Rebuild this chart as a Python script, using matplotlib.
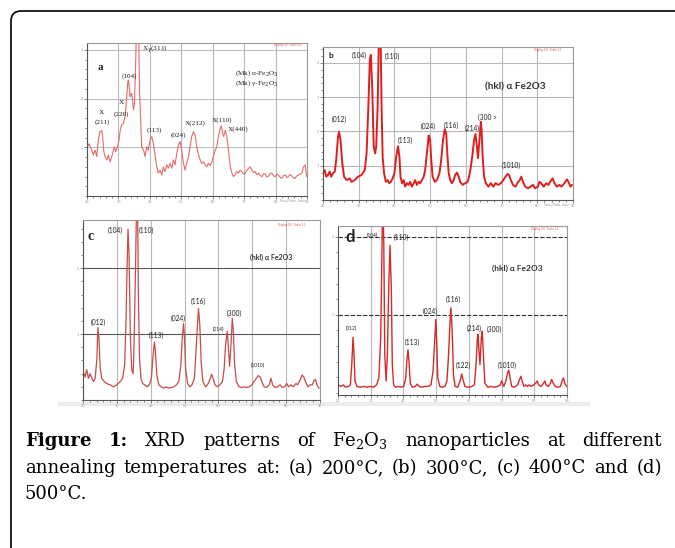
import matplotlib
matplotlib.use("Agg")
import matplotlib.pyplot as plt
from matplotlib.patches import FancyBboxPatch, Rectangle
from matplotlib.ticker import MultipleLocator

plt.rcParams['mathtext.fontset'] = 'custom'
plt.rcParams['mathtext.rm'] = 'DejaVu Serif'
plt.rcParams['mathtext.it'] = 'DejaVu Serif:italic'
plt.rcParams['mathtext.bf'] = 'DejaVu Serif:bold'

# ---- data (2theta in degrees, intensity in grid units)
tth_a = [20.1, 20.6, 21.3, 22.0, 22.6, 23.1, 23.6, 24.1, 24.7, 25.0, 25.3, 25.7, 26.3, 26.8,
         27.3, 27.9, 28.4, 28.7, 29.1, 29.7, 30.2, 30.5, 31.0, 31.6, 32.1, 32.4, 33.0, 33.2,
         33.7, 34.2, 34.8, 35.1, 35.5, 35.8, 36.4, 36.7, 37.1, 37.4, 38.0, 38.5, 39.0, 39.5,
         40.1, 40.6, 41.1, 41.7, 42.2, 42.7, 43.3, 43.8, 44.3, 44.8, 45.4, 45.9, 46.4, 47.0,
         47.5, 48.0, 48.6, 49.1, 49.6, 50.1, 50.7, 51.2, 51.7, 52.3, 52.8, 53.3, 53.9, 54.4,
         54.9, 55.5, 56.0, 56.5, 57.1, 57.6, 58.1, 58.6, 59.2, 59.7, 60.2, 60.8, 61.3, 61.8,
         62.4, 62.7, 63.1, 63.5, 64.0, 64.5, 65.0, 65.6, 66.1, 66.6, 67.1, 67.6, 68.2, 68.7,
         69.3, 69.8, 70.3, 70.8, 71.4, 71.9, 72.5, 73.0, 73.5, 74.0, 74.6, 75.1, 75.7, 76.2,
         76.7, 77.2, 77.8, 78.3, 78.8, 79.4, 79.9, 80.4, 80.9, 81.5, 82.0, 82.5, 83.1, 83.6,
         84.1, 84.6, 85.2, 85.7, 86.2, 86.7, 87.3, 87.8, 88.4, 88.9, 89.4, 89.9]
int_a = [1.01, 1.07, 0.98, 0.84, 0.94, 0.81, 1.15, 1.32, 1.34, 1.22, 0.94, 0.81, 0.74, 0.84,
         0.70, 0.81, 0.94, 1.01, 0.91, 1.01, 1.15, 1.32, 1.46, 1.49, 1.63, 1.83, 2.35, 2.38,
         2.04, 2.11, 1.77, 1.90, 2.79, 3.60, 3.60, 2.18, 1.49, 1.01, 0.94, 0.81, 1.01, 0.94,
         1.15, 1.22, 1.08, 0.81, 0.60, 0.47, 0.53, 0.43, 0.60, 0.50, 0.64, 0.57, 0.67, 0.57,
         0.74, 0.64, 0.88, 1.05, 1.12, 0.94, 0.67, 0.53, 0.67, 0.81, 1.01, 1.22, 1.32, 1.25,
         1.01, 0.84, 0.74, 0.67, 0.70, 0.64, 0.60, 0.67, 0.62, 0.70, 0.81, 0.94, 1.01, 1.22,
         1.39, 1.44, 1.32, 1.22, 1.35, 1.22, 0.94, 0.60, 0.47, 0.40, 0.43, 0.50, 0.47, 0.53,
         0.50, 0.45, 0.47, 0.52, 0.57, 0.60, 0.53, 0.48, 0.50, 0.44, 0.47, 0.42, 0.40, 0.46,
         0.45, 0.39, 0.41, 0.46, 0.47, 0.41, 0.40, 0.45, 0.43, 0.38, 0.36, 0.42, 0.43, 0.38,
         0.40, 0.44, 0.41, 0.37, 0.36, 0.41, 0.43, 0.45, 0.47, 0.60, 0.64, 0.40]

tth_b = [20.0, 20.5, 20.9, 21.4, 21.9, 22.3, 22.8, 23.3, 23.7, 24.2, 24.5, 24.9, 25.4, 25.9,
         26.6, 27.5, 28.0, 28.9, 29.8, 30.8, 31.7, 32.2, 32.7, 33.1, 33.4, 33.8, 34.2, 34.6,
         34.9, 35.3, 35.7, 36.1, 36.4, 36.7, 37.1, 37.6, 38.1, 38.5, 39.0, 39.5, 40.0, 40.5,
         41.0, 41.4, 41.7, 42.1, 42.6, 43.0, 43.5, 44.0, 44.4, 44.9, 45.4, 45.8, 46.3, 46.8,
         47.2, 47.7, 48.2, 48.6, 49.1, 49.6, 50.0, 50.3, 50.7, 51.3, 51.9, 52.6, 53.1, 53.6,
         54.1, 54.5, 54.8, 55.2, 55.6, 56.1, 56.6, 57.0, 57.5, 58.0, 58.4, 59.1, 59.8, 60.5,
         60.9, 61.4, 61.9, 62.3, 62.7, 63.1, 63.4, 63.8, 64.2, 64.4, 64.7, 65.1, 65.6, 66.3,
         67.0, 67.7, 68.3, 69.1, 69.8, 70.5, 71.1, 71.7, 72.1, 72.6, 73.2, 73.9, 74.4, 75.1,
         75.5, 76.0, 76.6, 77.4, 78.1, 78.8, 79.4, 80.2, 80.6, 81.1, 81.8, 82.5, 83.1, 83.9,
         84.3, 84.8, 85.5, 86.2, 86.8, 87.6, 88.3, 88.7, 89.3, 89.7]
int_b = [0.78, 0.87, 0.68, 0.73, 0.83, 0.68, 0.78, 0.83, 1.17, 1.85, 1.99, 1.75, 1.07, 0.68,
         0.58, 0.63, 0.53, 0.58, 0.68, 0.73, 0.87, 1.36, 2.72, 4.08, 4.23, 3.21, 1.56, 1.36,
         1.56, 2.72, 5.00, 5.00, 2.72, 1.26, 0.78, 0.53, 0.58, 0.49, 0.53, 0.63, 0.78, 1.26,
         1.57, 1.26, 0.68, 0.49, 0.58, 0.39, 0.49, 0.44, 0.53, 0.39, 0.49, 0.58, 0.44, 0.53,
         0.49, 0.58, 0.68, 0.87, 1.36, 1.88, 1.75, 1.17, 0.68, 0.53, 0.58, 0.78, 1.17, 1.75,
         2.06, 1.94, 1.36, 0.78, 0.58, 0.49, 0.58, 0.73, 0.80, 0.68, 0.53, 0.44, 0.49, 0.53,
         0.68, 0.97, 1.36, 1.75, 1.92, 1.56, 1.22, 1.75, 2.28, 2.04, 1.26, 0.68, 0.49, 0.39,
         0.49, 0.39, 0.49, 0.44, 0.49, 0.58, 0.68, 0.76, 0.73, 0.58, 0.44, 0.39, 0.49, 0.58,
         0.68, 0.53, 0.39, 0.34, 0.39, 0.44, 0.34, 0.39, 0.53, 0.49, 0.39, 0.49, 0.44, 0.58,
         0.63, 0.49, 0.39, 0.44, 0.39, 0.49, 0.60, 0.53, 0.39, 0.44]

tth_c = [20.1, 20.6, 21.1, 21.6, 22.1, 22.6, 23.1, 23.6, 24.1, 24.4, 24.7, 25.1, 25.5, 26.3,
         27.0, 28.0, 29.0, 30.0, 31.0, 31.7, 32.3, 32.7, 33.1, 33.3, 33.6, 34.0, 34.4, 34.8,
         35.0, 35.4, 35.8, 36.1, 36.4, 36.7, 37.1, 37.6, 38.2, 38.9, 39.6, 40.2, 40.7, 41.1,
         41.4, 41.8, 42.4, 43.1, 43.8, 44.5, 45.3, 46.1, 46.8, 47.6, 48.3, 48.9, 49.3, 49.7,
         50.0, 50.3, 50.9, 51.5, 52.2, 52.9, 53.2, 53.7, 54.1, 54.5, 54.9, 55.4, 56.2, 57.0,
         57.6, 58.0, 58.4, 59.0, 59.7, 60.4, 61.2, 61.7, 62.1, 62.6, 62.9, 63.3, 63.7, 64.1,
         64.4, 64.8, 65.3, 66.1, 66.9, 67.6, 68.3, 69.1, 69.9, 70.5, 71.2, 71.8, 72.3, 72.8,
         73.5, 74.2, 75.0, 75.5, 76.0, 76.8, 77.5, 78.2, 78.8, 79.5, 80.2, 80.7, 81.4, 82.1,
         82.9, 83.4, 84.1, 84.7, 85.2, 85.7, 86.4, 87.1, 87.7, 88.3, 88.7, 89.1, 89.7]
int_c = [0.43, 0.35, 0.46, 0.33, 0.40, 0.33, 0.28, 0.33, 0.63, 1.10, 0.93, 0.48, 0.33, 0.28,
         0.25, 0.23, 0.20, 0.23, 0.28, 0.33, 0.53, 1.19, 2.20, 2.59, 2.20, 0.93, 0.46, 0.40,
         0.68, 1.69, 2.90, 3.00, 1.44, 0.63, 0.33, 0.25, 0.23, 0.20, 0.23, 0.33, 0.68, 0.88,
         0.73, 0.38, 0.23, 0.20, 0.18, 0.20, 0.18, 0.19, 0.20, 0.23, 0.28, 0.53, 0.93, 1.16,
         0.93, 0.48, 0.25, 0.20, 0.23, 0.33, 0.58, 1.04, 1.39, 1.14, 0.58, 0.28, 0.20, 0.25,
         0.33, 0.39, 0.33, 0.23, 0.20, 0.23, 0.28, 0.48, 0.83, 1.04, 0.83, 0.51, 0.83, 1.24,
         1.04, 0.53, 0.28, 0.20, 0.19, 0.20, 0.19, 0.20, 0.23, 0.28, 0.33, 0.37, 0.35, 0.28,
         0.20, 0.19, 0.23, 0.33, 0.23, 0.19, 0.20, 0.23, 0.19, 0.20, 0.25, 0.20, 0.23, 0.20,
         0.25, 0.23, 0.30, 0.38, 0.35, 0.28, 0.20, 0.23, 0.23, 0.30, 0.31, 0.23, 0.18]

tth_d = [20.1, 20.9, 21.6, 22.3, 23.2, 23.8, 24.2, 24.6, 24.9, 25.2, 25.8, 26.7, 27.8, 28.8,
         29.8, 30.8, 31.8, 32.5, 33.05, 33.35, 33.7, 34.0, 34.3, 34.7, 35.1, 35.5, 35.9, 36.3,
         36.6, 37.0, 37.6, 38.4, 39.3, 40.1, 40.7, 41.1, 41.4, 41.7, 42.1, 42.7, 43.6, 44.2,
         44.8, 45.6, 46.6, 47.6, 48.4, 49.05, 49.5, 49.9, 50.2, 50.5, 51.1, 51.9, 52.7, 53.3,
         53.8, 54.2, 54.5, 54.9, 55.3, 55.8, 56.6, 57.3, 57.8, 58.2, 58.8, 59.8, 60.9, 61.7,
         62.2, 62.6, 62.8, 63.1, 63.4, 63.8, 64.1, 64.5, 64.9, 65.8, 66.8, 67.8, 68.8, 69.6,
         70.0, 70.7, 71.3, 71.8, 72.2, 72.6, 73.1, 73.9, 74.9, 75.5, 75.9, 76.3, 76.8, 77.4,
         77.9, 78.4, 79.0, 79.8, 80.4, 80.9, 81.3, 82.1, 82.8, 83.2, 83.6, 84.3, 84.9, 85.3,
         85.8, 86.4, 87.2, 88.0, 88.5, 88.9, 89.3, 89.9]
int_d = [0.10, 0.08, 0.10, 0.07, 0.08, 0.10, 0.36, 0.71, 0.49, 0.15, 0.08, 0.07, 0.08, 0.07,
         0.08, 0.07, 0.10, 0.19, 0.70, 1.56, 2.60, 1.90, 0.49, 0.15, 0.49, 1.34, 1.89, 1.34,
         0.36, 0.10, 0.07, 0.08, 0.07, 0.08, 0.19, 0.44, 0.55, 0.40, 0.12, 0.07, 0.08, 0.11,
         0.08, 0.07, 0.08, 0.08, 0.10, 0.27, 0.62, 0.94, 0.62, 0.19, 0.08, 0.07, 0.08, 0.15,
         0.49, 0.87, 1.09, 0.79, 0.23, 0.08, 0.07, 0.15, 0.24, 0.17, 0.08, 0.07, 0.08, 0.10,
         0.36, 0.70, 0.75, 0.53, 0.36, 0.70, 0.79, 0.44, 0.12, 0.07, 0.08, 0.07, 0.08, 0.10,
         0.15, 0.08, 0.15, 0.25, 0.29, 0.19, 0.08, 0.07, 0.10, 0.17, 0.21, 0.15, 0.08, 0.10,
         0.08, 0.10, 0.08, 0.10, 0.12, 0.15, 0.10, 0.08, 0.12, 0.15, 0.10, 0.08, 0.12, 0.17,
         0.12, 0.08, 0.07, 0.08, 0.15, 0.19, 0.12, 0.08]

# peak labels: (text, x px, y px)
labels_a = [("X", 101, 112), ("(211)", 102, 122), ("X", 121, 103), ("(220)", 121, 114),
            ("(104)", 129, 76), ("(113)", 154, 130), ("(024)", 178, 135),
            ("X(212)", 195, 123), ("X(110)", 222, 120), ("X(440)", 238, 129)]
labels_b = [("(104)", 359, 55), ("(110)", 392, 56), ("(012)", 339, 119), ("(113)", 405, 140),
            ("(024)", 428, 126), ("(116)", 451, 125), ("(214)", 472, 128), ("(300 >", 487, 117),
            ("(1010)", 511, 165)]
labels_c = [("(104)", 115, 230), ("(110)", 146, 230), ("(012)", 98, 322), ("(113)", 156, 335),
            ("(024)", 178, 318), ("(116)", 198, 301), ("(300)", 234, 313)]
labels_c_small = [("(214)", 218, 329), ("(1010)", 258, 365)]
labels_d = [("(110)", 401, 237), ("(113)", 412, 342), ("(024)", 430, 311), ("(116)", 453, 299),
            ("(122)", 463, 365), ("(214)", 474, 328), ("(300)", 494, 329), ("(1010)", 507, 365)]
labels_d_small = [("(104)", 372, 235), ("(012)", 351, 328)]

caption_1 = ["XRD", "patterns", "of", "Fe$_2$O$_3$", "nanoparticles", "at", "different"]
caption_2 = ["annealing", "temperatures", "at:", "(a)", "200°C,", "(b)", "300°C,", "(c)",
             "400°C", "and", "(d)"]
caption_3 = "500°C."

W, H = 675, 548
fig = plt.figure(figsize=(W / 100, H / 100), dpi=100)
bg = fig.add_axes([0, 0, 1, 1], zorder=-1)
bg.set_xlim(0, W)
bg.set_ylim(H, 0)
bg.axis('off')

# outer rounded frame (open to the right and bottom)
bg.add_patch(FancyBboxPatch((11, 11), 720, 600, boxstyle="round,pad=0,rounding_size=10",
                            fc='none', ec='black', lw=1.2))
bg.add_patch(Rectangle((58, 402), 532, 4, fc='#ececec', ec='none'))


def panel(l, t, r, b, y0, y1, tth, inten, color, lw, hcolor, hstyle):
    ax = fig.add_axes([l / W, 1 - b / H, (r - l) / W, (b - t) / H])
    ax.plot(tth, inten, color=color, lw=lw)
    ax.set_xlim(20, 90)
    ax.set_ylim(y0, y1)
    ax.set_xticks(range(20, 91, 10))
    ax.xaxis.set_minor_locator(MultipleLocator(2))
    ax.set_yticks(range(1, int(y1) + 1))
    ax.yaxis.set_minor_locator(MultipleLocator(0.2))
    ax.grid(axis='x', color='#b8b8b8', lw=0.8)
    ax.grid(axis='y', color=hcolor, lw=0.8, ls=hstyle)
    ax.tick_params(which='both', labelsize=2.5, colors='#555555', labelcolor='#999999',
                   length=2, width=0.5, pad=1)
    ax.tick_params(which='minor', length=1.2)
    for s in ax.spines.values():
        s.set_color('#9a9a9a')
        s.set_linewidth(0.8)
    ax.spines['left'].set_color('#555555')
    ax.spines['bottom'].set_color('#555555')
    ax.set_axisbelow(True)
    return ax


panel(87, 43, 307, 196, 0, 3.14, tth_a, int_a, '#e86a6a', 0.8, '#c0c0c0', '-')
panel(323, 47, 573, 200, 0, 4.46, tth_b, int_b, '#dd1f1f', 1.4, '#b8b8b8', '-')
panel(83, 220, 320, 400, 0, 2.73, tth_c, int_c, '#c94a4a', 0.9, '#555555', '-')
panel(338, 226, 567, 395, -0.03, 2.14, tth_d, int_d, '#d42a2a', 1.0, '#333333', (0, (4, 1.5)))


def put(x, y, s, **kw):
    kw.setdefault('ha', 'center')
    kw.setdefault('va', 'center')
    kw.setdefault('color', '#222222')
    fig.text(x, y, s, transform=bg.transData, **kw)


serif = 'Liberation Serif'
sans = 'Lato'
for s, x, y in labels_a:
    put(x, y, s, family=serif, fontsize=5.2)
put(155, 49, r"X$_\gamma$(311)", family=serif, fontsize=5.2)
put(257, 73, r"(Mk) α-Fe$_2$O$_3$", family=serif, fontsize=5.2)
put(257, 83, r"(Mk) γ-Fe$_2$O$_3$", family=serif, fontsize=5.2)
put(100, 67, "a", family=serif, fontsize=8, weight='bold')

for s, x, y in labels_b:
    put(x, y, s, family=sans, fontsize=4.8)
put(331, 55, "b", family=sans, fontsize=6, weight='bold')
put(515, 87, "(hkl) α Fe2O3", family=sans, fontsize=7.2, weight='bold', color='#333333')

for s, x, y in labels_c:
    put(x, y, s, family=sans, fontsize=4.8)
for s, x, y in labels_c_small:
    put(x, y, s, family=sans, fontsize=3.5)
put(91, 237, "c", family=serif, fontsize=10, weight='bold')
put(271, 257, "(hkl) α Fe2O3", family=sans, fontsize=5, weight='bold', color='#333333')

for s, x, y in labels_d:
    put(x, y, s, family=sans, fontsize=4.8)
for s, x, y in labels_d_small:
    put(x, y, s, family=sans, fontsize=3.5)
put(350, 237, "d", family=sans, fontsize=12, weight='bold')
put(517, 268, "(hkl) α Fe2O3", family=sans, fontsize=6, weight='bold', color='#333333')

# tiny instrument notes
for x, y in [(288, 45), (548, 50), (292, 225), (545, 229)]:
    put(x, y, "Display 0.0 · Scale 1:1", fontsize=1.8, color='#e04040')
for x, y in [(292, 201), (556, 205)]:
    put(x, y, "Theta-2Theta - Scale", fontsize=1.8, color='#888888')

# caption, justified between x0 and x1
cap_font = 'DejaVu Serif'
cap_fs = 13
x0, x1 = 25, 662


def justify(parts, y):
    arts = []
    for s, wt in parts:
        arts.append(bg.text(x0, y, s, family=cap_font, fontsize=cap_fs, weight=wt,
                            va='baseline', ha='left', color='black'))
    r = fig.canvas.get_renderer()
    widths = [a.get_window_extent(r).width for a in arts]
    gap = (x1 - x0 - sum(widths)) / (len(arts) - 1)
    x = x0
    for a, w in zip(arts, widths):
        a.set_x(x)
        x += w + gap


justify([("Figure", 'bold'), ("1:", 'bold')] + [(w, 'normal') for w in caption_1], 446)
justify([(w, 'normal') for w in caption_2], 473)
bg.text(x0, 499, caption_3, family=cap_font, fontsize=cap_fs, va='baseline', ha='left',
        color='black')

fig.savefig("out.png", dpi=100)
